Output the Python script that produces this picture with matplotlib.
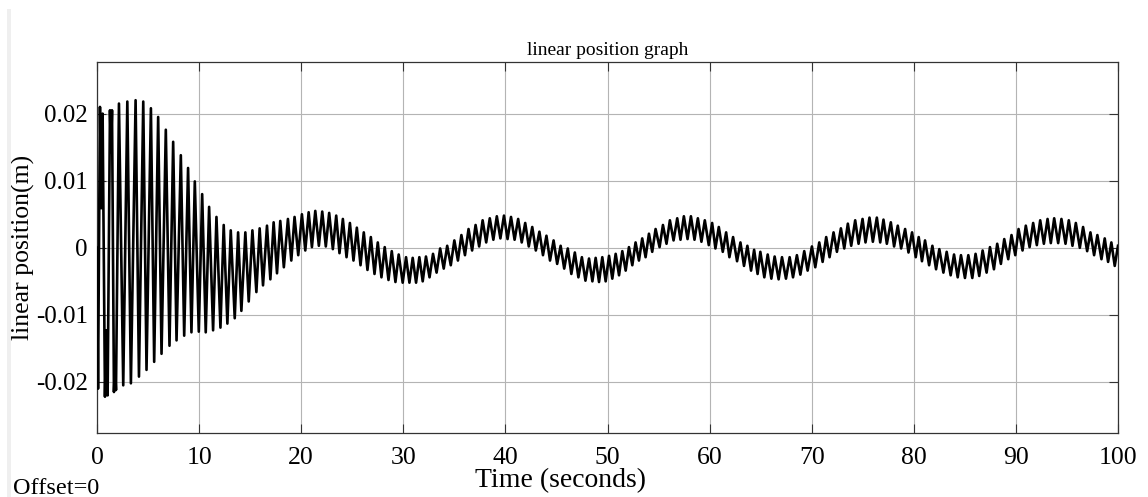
import matplotlib
matplotlib.use("Agg")
import matplotlib.pyplot as plt
from matplotlib.patches import Rectangle

# ---------------- data (local extrema of the trace) ----------------
t_ext = [
    0.00, 0.10, 0.29, 0.42, 0.55, 0.78, 0.91, 1.04, 1.27, 1.37, 1.47, 1.66, 1.76, 1.86,
    2.15, 2.57, 2.97, 3.32, 3.78, 4.11, 4.53, 4.85, 5.28, 5.60, 5.99, 6.32, 6.74, 7.10,
    7.46, 7.79, 8.21, 8.54, 8.92, 9.25, 9.58, 9.97, 10.30, 10.65, 10.98, 11.37, 11.70,
    12.09, 12.41, 12.77, 13.10, 13.49, 13.82, 14.14, 14.53, 14.86, 15.22, 15.61, 15.93,
    16.26, 16.65, 16.98, 17.30, 17.63, 17.95, 18.30, 18.70, 19.03, 19.35, 19.71, 20.07,
    20.40, 20.73, 21.05, 21.38, 21.73, 22.06, 22.41, 22.74, 23.10, 23.43, 23.75, 24.08,
    24.44, 24.77, 25.12, 25.45, 25.81, 26.13, 26.49, 26.82, 27.18, 27.50, 27.86, 28.18,
    28.55, 28.87, 29.23, 29.55, 29.94, 30.27, 30.60, 30.92, 31.25, 31.57, 31.90, 32.22,
    32.57, 32.91, 33.26, 33.61, 33.96, 34.30, 34.65, 35.00, 35.35, 35.69, 36.04, 36.39,
    36.74, 37.08, 37.43, 37.77, 38.12, 38.47, 38.82, 39.16, 39.51, 39.86, 40.21, 40.55,
    40.90, 41.25, 41.60, 41.94, 42.29, 42.63, 42.98, 43.33, 43.68, 44.02, 44.37, 44.72,
    45.07, 45.41, 45.76, 46.11, 46.46, 46.80, 47.15, 47.49, 47.84, 48.19,
    48.52, 48.84, 49.17, 49.49, 49.82, 50.15, 50.47, 50.80, 51.13, 51.45, 51.78, 52.10,
    52.43, 52.75, 53.08, 53.40, 53.73, 54.06, 54.38, 54.71, 55.10, 55.43, 55.78, 56.11,
    56.47, 56.83, 57.15, 57.48, 57.84, 58.17, 58.52, 58.85, 59.20, 59.53, 59.92, 60.25,
    60.57, 60.90, 61.29, 61.62, 61.94, 62.30, 62.69, 63.02, 63.37, 63.70, 64.06, 64.36,
    64.70, 64.97, 65.36, 65.69, 66.05, 66.37, 66.76, 67.09, 67.48, 67.84, 68.17, 68.55,
    68.89, 69.27, 69.60, 70.02, 70.35, 70.74, 71.07, 71.42, 71.75, 72.14, 72.47, 72.86,
    73.19, 73.54, 73.87, 74.26, 74.59, 74.98, 75.27, 75.66, 75.99, 76.38, 76.71, 77.03,
    77.36, 77.75, 78.07, 78.43, 78.76, 79.15, 79.48, 79.83, 80.19, 80.48,
    80.80, 81.10, 81.50, 81.82, 82.18, 82.50, 82.90, 83.22, 83.61, 83.94, 84.30, 84.62,
    85.01, 85.34, 85.73, 86.05, 86.41, 86.74, 87.13, 87.46, 87.85, 88.17, 88.53, 88.86,
    89.25, 89.57, 89.94, 90.26, 90.65, 90.97, 91.34, 91.69, 92.05, 92.38, 92.74, 93.10,
    93.42, 93.75, 94.14, 94.46, 94.86, 95.18, 95.54, 95.87, 96.26, 96.58, 96.98, 97.30,
    97.66, 97.98, 98.38, 98.70, 99.03, 99.35, 99.68, 100.00,
]

pos_ext = [
    0.0, -0.0210, 0.0210, 0.0059, 0.0200, -0.0222, -0.0123, -0.0220, 0.0205, 0.0143, 0.0205,
    -0.0215, -0.0177, -0.0212,
    0.0215, -0.0205, 0.0218, -0.0202, 0.0220, -0.0192, 0.0218, -0.0182, 0.0208, -0.0170,
    0.0195, -0.0158, 0.0176, -0.0146, 0.0158, -0.0138, 0.0138, -0.0131, 0.0119, -0.0126,
    0.0099, -0.0125, 0.0080, -0.0126, 0.0061, -0.0123, 0.0046, -0.0119, 0.0034, -0.0113,
    0.0026, -0.0105, 0.0023, -0.0094, 0.0023, -0.0080, 0.0026, -0.0066, 0.0029,
    -0.0056, 0.0033, -0.0047, 0.0038, -0.0038, 0.0040, -0.0029, 0.0043, -0.0019, 0.0046,
    -0.0011, 0.0050, -0.0004, 0.0053, 0.0001, 0.0055, 0.0003, 0.0054, 0.0002, 0.0052,
    -0.0002, 0.0048, -0.0008, 0.0043, -0.0014, 0.0037, -0.0019, 0.0030, -0.0026, 0.0023,
    -0.0033, 0.0016, -0.0039, 0.0008, -0.0044, 0.0001, -0.0048, -0.0005, -0.0051, -0.0010,
    -0.0052, -0.0014, -0.0052, -0.0015, -0.0052, -0.0014, -0.0050, -0.0013,
    -0.0044, -0.0009, -0.0037, -0.0001, -0.0031, 0.0003, -0.0026, 0.0011, -0.0019, 0.0019,
    -0.0011, 0.0028, -0.0004, 0.0034, 0.0002, 0.0041, 0.0008, 0.0044, 0.0012, 0.0047,
    0.0014, 0.0048, 0.0013, 0.0046, 0.0012, 0.0043, 0.0008, 0.0037, 0.0002, 0.0031,
    -0.0004, 0.0024, -0.0011, 0.0018, -0.0019, 0.0011, -0.0024, 0.0003, -0.0031, -0.0001,
    -0.0039, -0.0007, -0.0044, -0.0014, -0.0049, -0.0016,
    -0.0050, -0.0015, -0.0051, -0.0014, -0.0050, -0.0012, -0.0046, -0.0009, -0.0041, -0.0005,
    -0.0034, 0.0001, -0.0026, 0.0008, -0.0019, 0.0014, -0.0014, 0.0021, -0.0006, 0.0028,
    0.0001, 0.0034, 0.0006, 0.0041, 0.0011, 0.0044, 0.0012, 0.0047, 0.0013, 0.0047,
    0.0012, 0.0044, 0.0009, 0.0041, 0.0004, 0.0037, -0.0001, 0.0031, -0.0006, 0.0023,
    -0.0014, 0.0016, -0.0020, 0.0008, -0.0027, 0.0003, -0.0034, -0.0003,
    -0.0039, -0.0006, -0.0044, -0.0010, -0.0046, -0.0013, -0.0047, -0.0014, -0.0046, -0.0014,
    -0.0044, -0.0011, -0.0040, -0.0005, -0.0034, 0.0002, -0.0029, 0.0008, -0.0021, 0.0016,
    -0.0014, 0.0023, -0.0006, 0.0029, -0.0001, 0.0036, 0.0003, 0.0041, 0.0006, 0.0043,
    0.0008, 0.0045, 0.0009, 0.0045, 0.0008, 0.0042, 0.0006, 0.0038, 0.0002, 0.0033,
    -0.0001, 0.0028, -0.0007, 0.0023, -0.0014, 0.0016,
    -0.0020, 0.0011, -0.0026, 0.0003, -0.0032, -0.0002, -0.0037, -0.0006, -0.0041, -0.0010,
    -0.0044, -0.0011, -0.0045, -0.0011, -0.0045, -0.0009, -0.0042, -0.0004, -0.0037, 0.0001,
    -0.0032, 0.0006, -0.0024, 0.0013, -0.0017, 0.0019, -0.0011, 0.0028, -0.0004, 0.0033,
    0.0001, 0.0037, 0.0004, 0.0041, 0.0006, 0.0043, 0.0007, 0.0044, 0.0007, 0.0043,
    0.0006, 0.0041, 0.0003, 0.0037, 0.0000, 0.0031, -0.0005, 0.0023, -0.0011, 0.0019,
    -0.0017, 0.0014, -0.0021, 0.0008, -0.0027, 0.0003,
]

x_ticks = [0, 10, 20, 30, 40, 50, 60, 70, 80, 90, 100]
y_ticks = [-0.02, -0.01, 0.0, 0.01, 0.02]
y_tick_labels = ["-0.02", "-0.01", "0", "0.01", "0.02"]

# ---------------- figure ----------------
W, H = 1148, 497
plt.rcParams["font.family"] = ["Liberation Serif", "DejaVu Serif"]
fig = plt.figure(figsize=(W / 100, H / 100), dpi=100)
fig.patch.set_facecolor("white")

# light grey window strip at the far left
fig.patches.append(Rectangle((7 / W, 0), 4 / W, 1 - 9 / H, transform=fig.transFigure,
                             facecolor="#efefef", edgecolor="none", zorder=0))

ax = fig.add_axes([97 / W, 1 - 433.3 / H, (1118 - 97) / W, (433.3 - 62.3) / H])
ax.plot(t_ext, pos_ext, color="black", lw=1.9, solid_joinstyle="round", zorder=3)

ax.set_xlim(0, 100)
ax.set_ylim(-0.02765, 0.02765)
ax.set_xticks(x_ticks)
ax.set_xticklabels([str(v) for v in x_ticks])
ax.set_yticks(y_ticks)
ax.set_yticklabels(y_tick_labels)

ax.grid(True, color="#b4b4b4", lw=0.8)
ax.set_axisbelow(True)
ax.tick_params(direction="in", length=6.5, width=0.8, color="#333333",
               top=True, right=True, labelsize=18.5)
ax.tick_params(axis="y", pad=6.5, labelsize=18)
ax.tick_params(axis="x", pad=10)
for s in ax.spines.values():
    s.set_color("#333333")
    s.set_linewidth(0.9)

ax.set_title("linear position graph", fontsize=14, pad=5)
ax.set_xlabel("Time (seconds)", fontsize=20)
ax.xaxis.set_label_coords(0.4535, -0.095)
ax.set_ylabel("linear position(m)", fontsize=18.5)
ax.yaxis.set_label_coords(-0.0612, 0.5)

fig.text(13 / W, 1 - 494 / H, "Offset=0", fontsize=17.5, ha="left", va="baseline")

fig.savefig("out.png", dpi=100)
